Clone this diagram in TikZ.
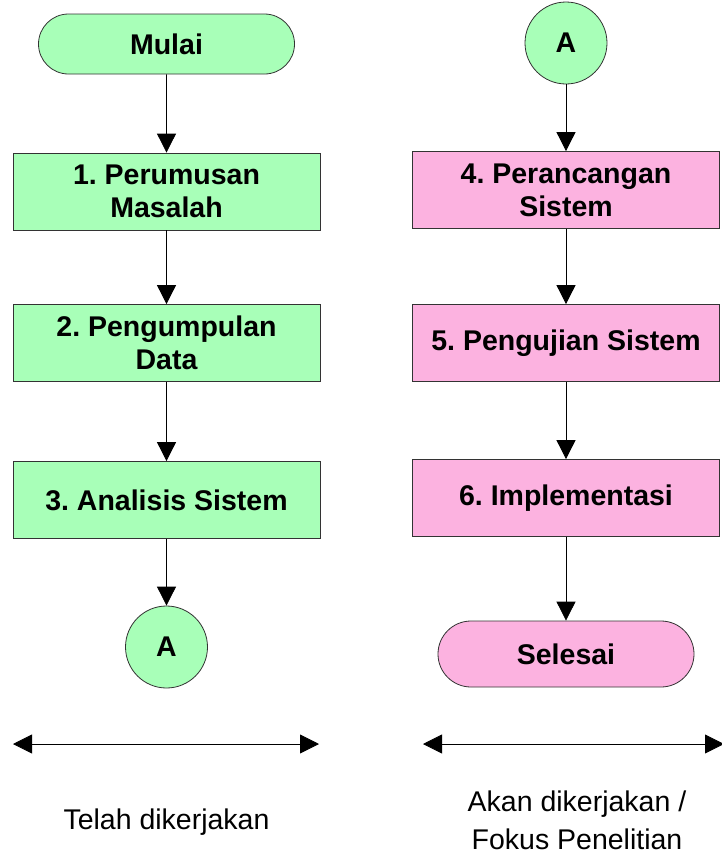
\documentclass[tikz,border=0pt]{standalone}
\usepackage{fontspec}
\setmainfont{Liberation Sans}
\usetikzlibrary{arrows.meta,shapes.misc}
\frenchspacing

\definecolor{hijau}{RGB}{168,255,184}
\definecolor{merahmuda}{RGB}{252,178,224}

\tikzset{
	proses/.style={draw=black!80, line width=0.8pt, minimum width=307pt, minimum height=77pt,
		inner sep=0pt, align=center, font=\bfseries\fontsize{28.5}{33}\selectfont},
	terminal/.style={rounded rectangle, draw=black!80, line width=0.8pt, minimum width=256pt,
		inner sep=0pt, font=\bfseries\fontsize{28.5}{33}\selectfont},
	konektor/.style={circle, draw=black!80, line width=0.8pt, fill=hijau, minimum size=82pt,
		inner sep=0pt, font=\bfseries\fontsize{28.5}{33}\selectfont},
	panah/.style={-{Triangle[width=19pt,length=19pt]}, line width=0.8pt},
	panahdua/.style={{Triangle[width=19pt,length=19pt]}-{Triangle[width=19pt,length=19pt]}, line width=0.8pt},
	keterangan/.style={align=center, inner sep=0pt, font=\fontsize{28.5}{38}\selectfont}
}

\begin{document}
\begin{tikzpicture}[x=1pt,y=-1pt]
		
		\useasboundingbox (0,0) rectangle (722,852);
		
		% kolom kiri
		\node[terminal, fill=hijau, minimum height=60pt] (mulai) at (166.5,44) {Mulai};
		\node[proses, fill=hijau] (p1) at (166.5,191.5) {1. Perumusan\\Masalah};
		\node[proses, fill=hijau] (p2) at (166.5,343) {2. Pengumpulan\\Data};
		\node[proses, fill=hijau] (p3) at (166.5,500) {3. Analisis Sistem};
		\node[konektor] (a1) at (166.5,647) {A};
		
		\draw[panah] (mulai) -- (p1);
		\draw[panah] (p1) -- (p2);
		\draw[panah] (p2) -- (p3);
		\draw[panah] (p3) -- (a1);
		
		% kolom kanan
		\node[konektor] (a2) at (566,43) {A};
		\node[proses, fill=merahmuda] (p4) at (566,190) {4. Perancangan\\Sistem};
		\node[proses, fill=merahmuda] (p5) at (566,343) {5. Pengujian Sistem};
		\node[proses, fill=merahmuda] (p6) at (566,498) {6. Implementasi};
		\node[terminal, fill=merahmuda, minimum height=66pt] (selesai) at (566,654) {Selesai};
		
		\draw[panah] (a2) -- (p4);
		\draw[panah] (p4) -- (p5);
		\draw[panah] (p5) -- (p6);
		\draw[panah] (p6) -- (selesai);
		
		% batas pengerjaan
		\coordinate (kiri1) at (13,744);
		\coordinate (kanan1) at (319,744);
		\coordinate (kiri2) at (423,744);
		\coordinate (kanan2) at (724,744);
		\draw[panahdua] (kiri1) -- (kanan1);
		\draw[panahdua] (kiri2) -- (kanan2);
		
		\node[keterangan] (ket1) at (166.5,822) {Telah dikerjakan};
		\node[keterangan] (ket2) at (577,820) {Akan dikerjakan /\\Fokus Penelitian};
		
	\end{tikzpicture}
\end{document}
